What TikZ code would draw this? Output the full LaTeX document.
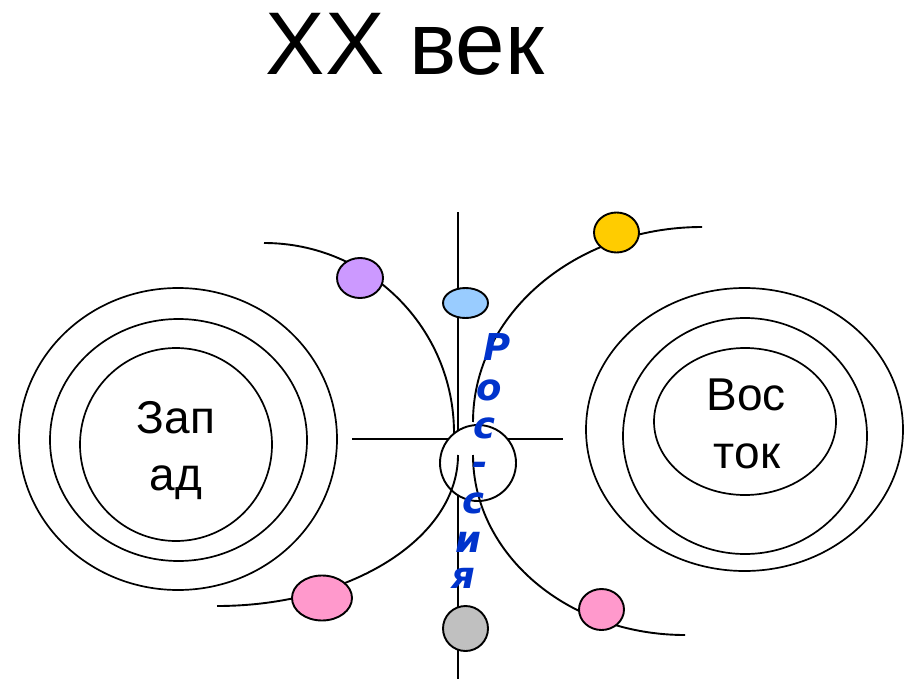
\documentclass[tikz,border=0pt]{standalone}
\usepackage{fontspec}
\setmainfont{Liberation Sans}
\newfontfamily\rusfont{DejaVu Sans}
\usetikzlibrary{shapes.geometric}
\definecolor{lilac}{HTML}{CC99FF}
\definecolor{skyb}{HTML}{99CCFF}
\definecolor{gold}{HTML}{FFCC00}
\definecolor{rose}{HTML}{FF99CC}
\definecolor{greyb}{HTML}{C0C0C0}
\definecolor{rusblue}{HTML}{0033CC}
\begin{document}
\begin{tikzpicture}[x=1pt,y=-1pt,line width=1.9pt,
  planet/.style={draw,ellipse,inner sep=0pt,line width=1.9pt},
  ring/.style={line width=1.7pt},
  bigtext/.style={font=\fontsize{46}{46}\selectfont,anchor=base,inner sep=0pt},
  rusletter/.style={font=\rusfont\fontsize{37}{37}\selectfont\bfseries\itshape,text=rusblue,anchor=base,inner sep=0pt}]
\useasboundingbox (0,0) rectangle (904,679);
% title
\node[font=\fontsize{89}{89}\selectfont,anchor=base,inner sep=0pt] (title) at (405,75) {XX век};
% West rings
\draw[ring] (178,439) ellipse[x radius=159,y radius=151];
\draw[ring] (178.5,440) ellipse[x radius=128.5,y radius=121];
\draw[ring] (176,444.5) ellipse[x radius=96,y radius=96.5];
\node[bigtext] (zap1) at (176,433) {Зап};
\node[bigtext] (zap2) at (176,490) {ад};
% East rings
\draw[ring] (744.5,429.5) ellipse[x radius=158.5,y radius=141.5];
\draw[ring] (745,436) ellipse[x radius=122,y radius=118];
\draw[ring] (745,421.5) ellipse[x radius=91,y radius=73.5];
\node[bigtext] (vos1) at (746,410) {Вос};
\node[bigtext] (vos2) at (747,468) {ток};
% cross
\coordinate (vtop) at (458,212);
\coordinate (vbot) at (458,679);
\coordinate (hleft) at (352,439);
\coordinate (hright) at (563,439);
\draw (vtop) -- (vbot);
\draw (hleft) -- (hright);
% central circle
\node[circle,draw,fill=white,minimum size=76pt,inner sep=0pt] (rus) at (478,463) {};
% orbits
\draw (264,243) arc[start angle=-90,end angle=0,radius=190];
\draw (458,455) arc[start angle=0,end angle=90,x radius=241,y radius=151];
\draw (473,422) arc[start angle=180,end angle=270,x radius=229,y radius=195];
\draw (473,455) arc[start angle=180,end angle=90,x radius=212,y radius=180];
% planets
\node[planet,fill=lilac,minimum width=46pt,minimum height=40pt] (p1) at (360,278) {};
\node[planet,fill=skyb,minimum width=45pt,minimum height=30pt] (p2) at (465.5,303) {};
\node[planet,fill=gold,minimum width=45pt,minimum height=40pt] (p3) at (616.5,232.5) {};
\node[planet,fill=rose,minimum width=60pt,minimum height=45pt] (p4) at (322,598) {};
\node[planet,fill=rose,minimum width=45pt,minimum height=41pt] (p5) at (601.5,609.5) {};
\node[planet,fill=greyb,minimum width=45pt,minimum height=45pt] (p6) at (465.5,628.5) {};
% Россия
\node[rusletter] (r1) at (497,360) {Р};
\node[rusletter] (r2) at (489,400) {о};
\node[rusletter] (r3) at (484,438) {с};
\node[rusletter] (r4) at (480,475) {-};
\node[rusletter] (r5) at (473,513) {с};
\node[rusletter] (r6) at (468,552) {и};
\node[rusletter] (r7) at (463,588) {я};
\end{tikzpicture}
\end{document}
